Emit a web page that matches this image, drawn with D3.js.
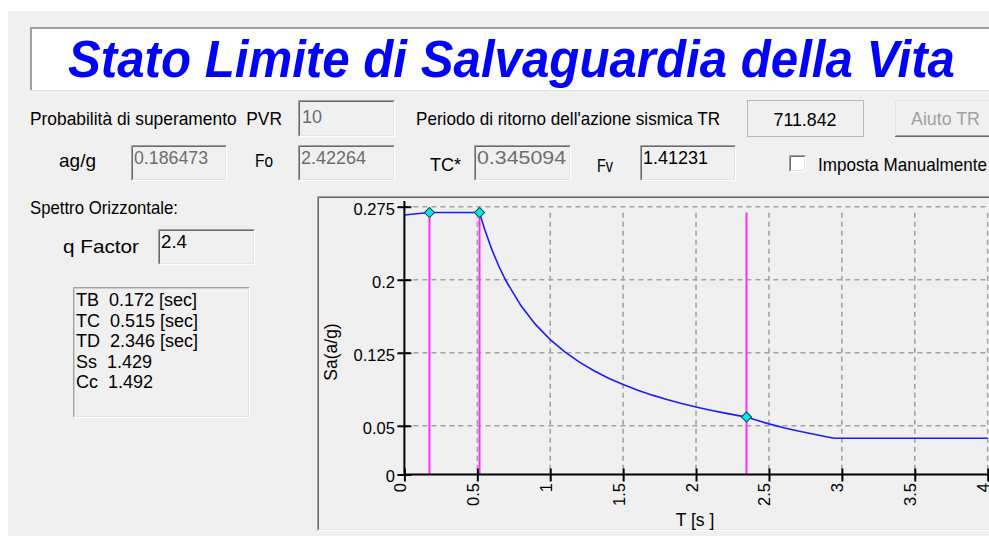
<!DOCTYPE html>
<html>
<head>
<meta charset="utf-8">
<script src="https://cdn.jsdelivr.net/npm/d3@7"></script>
<style>
  body { margin: 0; background: #fff; }
  svg { display: block; font-family: "Liberation Sans", Arial, sans-serif; }
  svg text { white-space: pre; }
</style>
</head>
<body>
<div id="container"></div>
<script>
// spectrum (T in s, Sa in g)
const periods  = [0, 0.05, 0.1, 0.172, 0.3, 0.4, 0.515, 0.55, 0.6, 0.65, 0.7, 0.8, 0.9, 1.0, 1.1, 1.2, 1.3, 1.4,
                  1.5, 1.6, 1.7, 1.8, 1.9, 2.0, 2.1, 2.2, 2.3, 2.346, 2.4, 2.5, 2.6, 2.7, 2.8, 2.9, 2.95, 3.0, 3.5, 4.0];
const spectrum = [0.2665, 0.2672, 0.268, 0.269, 0.269, 0.269, 0.269, 0.2519, 0.2309, 0.2131, 0.1979, 0.1732, 0.1539,
                  0.1385, 0.1259, 0.1154, 0.1066, 0.0989, 0.0924, 0.0866, 0.0815, 0.077, 0.0729, 0.0693, 0.066, 0.063,
                  0.0602, 0.059, 0.0564, 0.052, 0.0481, 0.0446, 0.0415, 0.0386, 0.0373, 0.0373, 0.0373, 0.0373];

const cornerPeriods = [0.172, 0.515, 2.346];
const cornerValues  = [0.269, 0.269, 0.059];

const xTicks = [0, 0.5, 1, 1.5, 2, 2.5, 3, 3.5, 4];
const yTicks = [0, 0.05, 0.125, 0.2, 0.275];

const titleText = 'Stato Limite di Salvaguardia della Vita';
const paramLines = ['TB  0.172 [sec]', 'TC  0.515 [sec]', 'TD  2.346 [sec]', 'Ss  1.429', 'Cc  1.492'];

const valPVR = '10', valTR = '711.842', valAg = '0.186473', valFo = '2.42264',
      valTC = '0.345094', valFv = '1.41231', valQ = '2.4';

const W = 989, H = 536;

const svg = d3.select('#container')
    .append('svg')
    .attr('width', W)
    .attr('height', H);

svg.append('rect').attr('x', 8).attr('y', 11).attr('width', W - 8).attr('height', H - 11).attr('fill', '#f0f0f0');

// windows style boxes
function sunken(x, y, w, h, fill, light) {
    const g = svg.append('g');
    g.append('rect').attr('x', x).attr('y', y).attr('width', w).attr('height', h).attr('fill', fill);
    g.append('path').attr('d', `M${x + 0.5},${y + h} V${y + 0.5} H${x + w}`)
        .attr('fill', 'none').attr('stroke', '#a0a0a0');
    g.append('path').attr('d', `M${x + 1.5},${y + h - 1} V${y + 1.5} H${x + w - 1}`)
        .attr('fill', 'none').attr('stroke', light ? '#cfcfcf' : '#696969');
    g.append('path').attr('d', `M${x + 0.5},${y + h - 0.5} H${x + w - 0.5} V${y + 0.5}`)
        .attr('fill', 'none').attr('stroke', '#ffffff');
    g.append('path').attr('d', `M${x + 1.5},${y + h - 1.5} H${x + w - 1.5} V${y + 1.5}`)
        .attr('fill', 'none').attr('stroke', '#e3e3e3');
    return g;
}

function label(x, y, s, w, opts) {
    opts = opts || {};
    const t = svg.append('text')
        .attr('x', x).attr('y', y)
        .style('font-size', (opts.size || 19) + 'px')
        .attr('fill', opts.color || '#000')
        .attr('text-anchor', opts.anchor || 'start')
        .text(s);
    if (w) t.attr('textLength', w).attr('lengthAdjust', 'spacingAndGlyphs');
    return t;
}

// title
svg.append('rect').attr('x', 30).attr('y', 27).attr('width', W - 30).attr('height', 64).attr('fill', '#fff');
svg.append('path').attr('d', `M31,91 V28 H${W}`).attr('fill', 'none').attr('stroke', '#a0a0a0').attr('stroke-width', 2);
svg.append('path').attr('d', `M30,90.5 H${W}`).attr('fill', 'none').attr('stroke', '#e3e3e3');
svg.append('text')
    .attr('x', 68).attr('y', 77)
    .attr('textLength', 887).attr('lengthAdjust', 'spacingAndGlyphs')
    .style('font-size', '51px').style('font-weight', 'bold').style('font-style', 'italic')
    .attr('fill', '#0000ff')
    .text(titleText);

// first row
label(30, 125, 'Probabilità di superamento  PVR', 252, { size: 18 });
sunken(298, 100, 97, 37, '#f0f0f0');
label(302, 123, valPVR, null, { color: '#6d6d6d', size: 18 });
label(416, 125, "Periodo di ritorno dell'azione sismica TR", 304, { size: 18.5 });
svg.append('rect').attr('x', 747.5).attr('y', 100.5).attr('width', 116).attr('height', 36)
    .attr('fill', '#f0f0f0').attr('stroke', '#b9b9b9');
label(805, 126, valTR, 63, { anchor: 'middle' });
// button
svg.append('rect').attr('x', 895).attr('y', 100).attr('width', 100).attr('height', 37).attr('fill', '#f0f0f0');
svg.append('path').attr('d', `M895.5,137 V100.5 H995`).attr('fill', 'none').attr('stroke', '#e3e3e3');
svg.append('path').attr('d', `M895,136.5 H995`).attr('fill', 'none').attr('stroke', '#696969');
svg.append('path').attr('d', `M896,135.5 H995`).attr('fill', 'none').attr('stroke', '#a0a0a0');
label(911, 125, 'Aiuto TR', 69, { color: '#a0a0a0' });

// second row
label(59, 167, 'ag/g', 37);
sunken(131, 145, 96, 36, '#f0f0f0');
label(134, 164, valAg, 74, { color: '#6d6d6d' });
label(255, 167, 'Fo', 18);
sunken(298, 145, 97, 36, '#f0f0f0');
label(301, 164, valFo, 65, { color: '#6d6d6d' });
label(430, 171, 'TC*', 31);
sunken(474, 145, 97, 36, '#f0f0f0');
label(477, 164, valTC, 89, { color: '#6d6d6d' });
label(597, 172, 'Fv', 16);
sunken(640, 145, 96, 36, '#f0f0f0');
label(643, 164, valFv, 65);
sunken(789, 155, 17, 17, '#ffffff');
label(818, 171, 'Imposta Manualmente', 169);

// left panel
label(30, 214, 'Spettro Orizzontale:', 148);
label(63, 253, 'q Factor', 76);
sunken(158, 229, 97, 36, '#f0f0f0');
label(161, 248, valQ, 26);
sunken(73, 287, 177, 131, '#f0f0f0', true);
paramLines.forEach(function (s, i) {
    label(76, 306 + i * 20.5, s, null, { size: 18 });
});

// chart panel
sunken(317, 196, 700, 335, '#f0f0f0');

const xScale = d3.scaleLinear().domain([0, 4]).range([404.4, 987.7]);
const yScale = d3.scaleLinear().domain([0, 0.275]).range([474.5, 206.7]);

const grid = svg.append('g').attr('stroke', '#a3a3a3').attr('stroke-width', 1.6).attr('stroke-dasharray', '5,4');
grid.selectAll('.hgrid')
    .data(yTicks.filter(d => d > 0))
    .enter()
    .append('line')
    .attr('x1', xScale(0)).attr('x2', xScale(4))
    .attr('y1', d => yScale(d)).attr('y2', d => yScale(d));
grid.selectAll('.vgrid')
    .data(xTicks.filter(d => d > 0))
    .enter()
    .append('line')
    .attr('x1', d => xScale(d)).attr('x2', d => xScale(d))
    .attr('y1', yScale(0.275) + 6).attr('y2', yScale(0));

// corner period markers
svg.selectAll('.corner')
    .data(cornerPeriods)
    .enter()
    .append('line')
    .attr('class', 'corner')
    .attr('x1', d => xScale(d)).attr('x2', d => xScale(d))
    .attr('y1', yScale(0)).attr('y2', yScale(d3.max(cornerValues)))
    .attr('stroke', '#ff2cff').attr('stroke-width', 2);

const line = d3.line()
    .x((d, i) => xScale(periods[i]))
    .y(d => yScale(d));

svg.append('path')
    .datum(spectrum)
    .attr('d', line)
    .attr('fill', 'none')
    .attr('stroke', '#1c1cff')
    .attr('stroke-width', 1.6);

// axes
const yAxis = d3.axisLeft(yScale).tickValues(yTicks).tickFormat(d3.format('')).tickSize(7).tickPadding(2.5);
const yg = svg.append('g').attr('transform', 'translate(' + xScale(0) + ',0)').call(yAxis);
yg.select('.domain').remove();
yg.selectAll('.tick line').attr('x1', 7).attr('stroke', '#000').attr('stroke-width', 2);
yg.selectAll('.tick text').style('font-size', '16.5px').attr('fill', '#000')
    .attr('font-family', '"Liberation Sans", Arial, sans-serif').attr('dy', '0.45em');

const xAxis = d3.axisBottom(xScale).tickValues(xTicks).tickFormat(d3.format('')).tickSize(7);
const xg = svg.append('g').attr('transform', 'translate(0,' + yScale(0) + ')').call(xAxis);
xg.select('.domain').remove();
xg.selectAll('.tick line').attr('y1', -6).attr('stroke', '#000').attr('stroke-width', 2);
xg.selectAll('.tick text')
    .style('font-size', '16.5px').attr('fill', '#000')
    .attr('font-family', '"Liberation Sans", Arial, sans-serif')
    .attr('transform', 'rotate(-90)')
    .attr('text-anchor', 'end')
    .attr('x', -8.5).attr('y', 1).attr('dy', 0);

svg.append('line').attr('x1', xScale(0)).attr('x2', xScale(0)).attr('y1', 201).attr('y2', yScale(0) + 1)
    .attr('stroke', '#000').attr('stroke-width', 2);
svg.append('line').attr('x1', xScale(0)).attr('x2', W).attr('y1', yScale(0)).attr('y2', yScale(0))
    .attr('stroke', '#000').attr('stroke-width', 2);

// diamonds at TB, TC, TD
svg.selectAll('.dot')
    .data(cornerPeriods)
    .enter()
    .append('path')
    .attr('class', 'dot')
    .attr('d', d3.symbol(d3.symbolSquare, 52))
    .attr('transform', (d, i) => 'translate(' + xScale(d) + ',' + yScale(cornerValues[i]) + ') rotate(45)')
    .attr('fill', '#00e8e8')
    .attr('stroke', '#134848')
    .attr('stroke-width', 1);

// axis titles
svg.append('text')
    .attr('transform', 'translate(337,352) rotate(-90)')
    .attr('text-anchor', 'middle')
    .style('font-size', '17.5px')
    .text('Sa(a/g)');

svg.append('text')
    .attr('x', 695).attr('y', 526)
    .attr('text-anchor', 'middle')
    .style('font-size', '17.5px')
    .text('T [s ]');
</script>
</body>
</html>
